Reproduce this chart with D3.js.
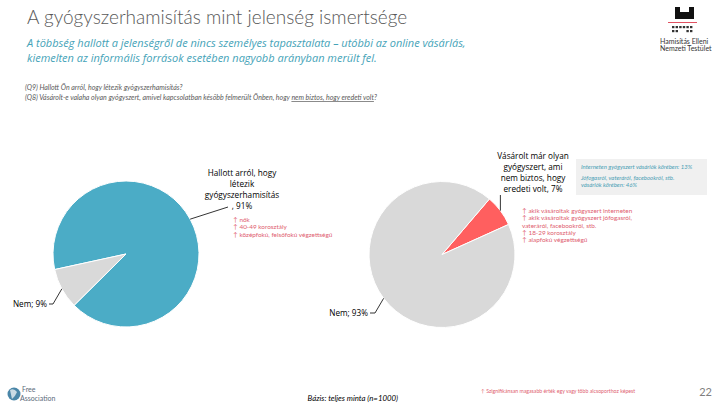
<!DOCTYPE html>
<html>
<head>
<meta charset="utf-8">
<script src="https://cdn.jsdelivr.net/npm/d3@7"></script>
<style>
  body { margin: 0; background: #fff; }
  svg { font-family: Lato, "Open Sans", sans-serif; }
  .lbl { font-family: "Open Sans", sans-serif; font-size: 8.2px; fill: #000; }
  .red { font-size: 6.4px; fill: #e06070; }
  .note { font-size: 6px; fill: #4a9fb5; font-style: italic; }
</style>
</head>
<body>
<div id="chart"></div>
<script>
// Data
var leftCats = ["Hallott arról, hogy létezik gyógyszerhamisítás", "Nem"]
var leftVals = [91, 9]
var rightCats = ["Vásárolt már olyan gyógyszert, ami nem biztos, hogy eredeti volt", "Nem"]
var rightVals = [7, 93]
var leftColors = ["#4bacc6", "#d9d9d9"]
var rightColors = ["#ff5f5f", "#d9d9d9"]

var svgWidth = 720
var svgHeight = 405

var svg = d3.select("#chart")
  .append("svg")
  .attr("width", svgWidth)
  .attr("height", svgHeight)

var deg = Math.PI / 180
var radius = 73

// Title + subtitle
svg.append("text")
  .attr("x", 27).attr("y", 24)
  .style("font-size", "19px").style("fill", "#595959").style("font-weight", 300)
  .text("A gyógyszerhamisítás mint jelenség ismertsége")

var sub = ["A többség hallott a jelenségről de nincs személyes tapasztalata – utóbbi az online vásárlás,",
           "kiemelten az informális források esetében nagyobb arányban merült fel."]
svg.selectAll(".sub").data(sub).enter().append("text")
  .attr("x", 27).attr("y", (d, i) => 47 + i * 14.5)
  .style("font-family", "'Open Sans', sans-serif")
  .style("font-size", "11px").style("fill", "#45a3b8").style("font-style", "italic")
  .text(d => d)

// Questions
svg.append("text")
  .attr("x", 25).attr("y", 90)
  .style("font-size", "7px").style("fill", "#595959").style("font-style", "italic")
  .text("(Q9) Hallott Ön arról, hogy létezik gyógyszerhamisítás?")

var q2 = svg.append("text")
  .attr("x", 25).attr("y", 100)
  .style("font-size", "7px").style("fill", "#595959").style("font-style", "italic")
q2.append("tspan").text("(Q8) Vásárolt-e valaha olyan gyógyszert, amivel kapcsolatban később felmerült Önben, hogy ")
q2.append("tspan").style("text-decoration", "underline").text("nem biztos, hogy eredeti volt")
q2.append("tspan").text("?")

// Pie builder
function drawPie(cx, cy, vals, colors, start) {
  var pie = d3.pie().sort(null).startAngle(start * deg).endAngle(start * deg + 2 * Math.PI)
  var arc = d3.arc().innerRadius(0).outerRadius(radius)
  var g = svg.append("g").attr("transform", `translate(${cx}, ${cy})`)
  var arcs = pie(vals)
  g.selectAll("path")
    .data(arcs)
    .enter()
    .append("path")
    .attr("d", arc)
    .attr("fill", (d, i) => colors[i])
    .attr("stroke", "#fff")
    .attr("stroke-width", 1)
  // outer points for leader lines
  return arcs.map(function(d) {
    var a = (d.startAngle + d.endAngle) / 2
    return [cx + radius * Math.sin(a), cy - radius * Math.cos(a)]
  })
}

var leftPts = drawPie(126, 254, leftVals, leftColors, 257.7)
var rightPts = drawPie(442, 254.5, rightVals, rightColors, 40.5)

function leader(points) {
  svg.append("path")
    .attr("d", d3.line()(points))
    .attr("fill", "none")
    .attr("stroke", "#000")
    .attr("stroke-width", 0.8)
}

function multiLabel(x, y, lines, anchor) {
  svg.append("text").attr("class", "lbl")
    .attr("text-anchor", anchor)
    .selectAll("tspan").data(lines).enter().append("tspan")
    .attr("x", x).attr("y", (d, i) => y + i * 11)
    .text(d => d)
}

// Left pie labels
leader([leftPts[0], [228, 207]])
multiLabel(242, 176, ["Hallott arról, hogy", "létezik", "gyógyszerhamisítás", ", " + leftVals[0] + "%"], "middle")
leader([leftPts[1], [53, 304], [49, 304]])
svg.append("text").attr("class", "lbl").attr("x", 47).attr("y", 307).attr("text-anchor", "end")
  .text(leftCats[1] + "; " + leftVals[1] + "%")

// Right pie labels
leader([rightPts[0], [rightPts[0][0], 195]])
multiLabel(533, 159, ["Vásárolt már olyan", "gyógyszert, ami", "nem biztos, hogy", "eredeti volt, " + rightVals[0] + "%"], "middle")
leader([rightPts[1], [375, 313], [370, 313]])
svg.append("text").attr("class", "lbl").attr("x", 368).attr("y", 316).attr("text-anchor", "end")
  .text(rightCats[1] + "; " + rightVals[1] + "%")

// Significance notes
function redList(x, y, lines) {
  var t = svg.append("text").attr("class", "red")
  lines.forEach(function(l, i) {
    t.append("tspan").attr("x", x).attr("y", y + i * 7.3)
      .text((l.arrow ? "\u2191 " : "") + l.text)
  })
}
redList(233, 222, [
  {arrow: true, text: "nők"},
  {arrow: true, text: "40-49 korosztály"},
  {arrow: true, text: "középfokú, felsőfokú végzettségű"}
])
redList(522, 213, [
  {arrow: true, text: "akik vásároltak gyógyszert interneten"},
  {arrow: true, text: "akik vásároltak gyógyszert jófogasról,"},
  {arrow: false, text: "vateráról, facebookról, stb."},
  {arrow: true, text: "18-29 korosztály"},
  {arrow: true, text: "alapfokú végzettségű"}
])

// Side box
svg.append("rect").attr("x", 576).attr("y", 159).attr("width", 131).attr("height", 36).attr("fill", "#f0f0f0")
var nt = svg.append("text").attr("class", "note")
nt.append("tspan").attr("x", 581).attr("y", 169).text("Interneten gyógyszert vásárlók körében: 13%")
nt.append("tspan").attr("x", 581).attr("y", 180).text("Jófogasról, vateráról, facebookról, stb.")
nt.append("tspan").attr("x", 581).attr("y", 187).text("vásárlók körében: 46%")

// Footer
svg.append("text")
  .attr("x", 398).attr("y", 401).attr("text-anchor", "end")
  .style("font-size", "7.8px").style("font-style", "italic").style("fill", "#000")
  .text("Bázis: teljes minta (n=1000)")
svg.append("text")
  .attr("x", 481).attr("y", 393)
  .style("font-size", "5.2px").style("fill", "#e06070")
  .text("\u2191 Szignifikánsan magasabb érték egy vagy több alcsoporthoz képest")
svg.append("text")
  .attr("x", 712).attr("y", 396).attr("text-anchor", "end")
  .style("font-size", "11px").style("fill", "#7f7f7f")
  .text("22")

// Top right logo (HENT)
var logo = svg.append("g")
logo.append("path")
  .attr("d", "M675,7 H680 V12 H689 V7 H694 V19 H675 Z")
  .attr("fill", "#111")
logo.append("line").attr("x1", 668).attr("x2", 697).attr("y1", 22.5).attr("y2", 22.5)
  .attr("stroke", "#e05060").attr("stroke-width", 1)
;[[0, 5], [1, 5]].forEach(function(r, ri) {
  d3.range(6).forEach(function(k) {
    if (ri === 1 && (k === 2 || k === 3)) return
    logo.append("rect").attr("x", 672 + k * 3.6).attr("y", 26 + ri * 4).attr("width", 2.4).attr("height", 2.2).attr("fill", "#333")
  })
})
logo.append("text").attr("x", 660).attr("y", 44).style("font-size", "7px").style("fill", "#333").text("Hamisítás Elleni")
logo.append("text").attr("x", 660).attr("y", 51).style("font-size", "7px").style("fill", "#333").text("Nemzeti Testület")

// Bottom left logo (Free Association)
var fa = svg.append("g")
fa.append("circle").attr("cx", 14).attr("cy", 394).attr("r", 6.5).attr("fill", "#4a86a8")
fa.append("path").attr("d", "M10,390 Q14,388 17,392 Q15,397 12,399 Z").attr("fill", "#fff").attr("opacity", 0.7)
fa.append("text").attr("x", 22).attr("y", 392).style("font-size", "7px").style("fill", "#5a6b7a").text("Free")
fa.append("text").attr("x", 20).attr("y", 401).style("font-size", "7px").style("fill", "#5a6b7a").text("Association")
</script>
</body>
</html>
